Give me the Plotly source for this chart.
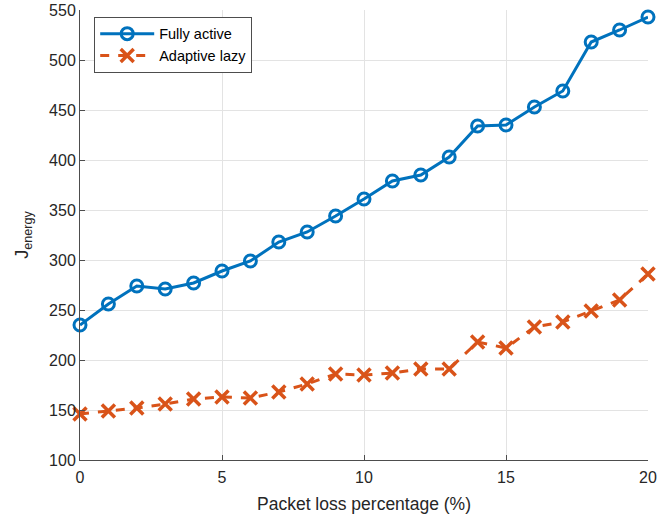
import plotly.graph_objects as go

packet_loss = list(range(0, 21))
fully_active = [235, 256, 274, 271, 277, 289, 299, 318, 328, 344, 361, 379, 385, 403, 434, 435, 453, 469, 518, 530, 543]
adaptive_lazy = [146, 149, 152, 156, 161, 163, 162, 168, 176, 186, 185, 187, 191, 191, 218, 212, 233, 238, 249, 260, 286]

blue = "#0072BD"
orange = "#D95319"

fig = go.Figure()
fig.add_trace(go.Scatter(
    x=packet_loss, y=fully_active, name="Fully active", mode="lines+markers",
    line=dict(color=blue, width=3),
    marker=dict(symbol="circle-open", size=12, color=blue, line=dict(width=3, color=blue)),
    cliponaxis=False,
))
fig.add_trace(go.Scatter(
    x=packet_loss, y=adaptive_lazy, name="Adaptive lazy", mode="lines+markers",
    line=dict(color=orange, width=3, dash="dash"),
    marker=dict(symbol="x-thin-open", size=13, color=orange, line=dict(width=3.5, color=orange)),
    cliponaxis=False,
))

FONT = "Liberation Sans, Arial, sans-serif"

axis_common = dict(
    showgrid=True, gridcolor="#e3e3e3", gridwidth=1,
    showline=True, linecolor="#4d4d4d", linewidth=1,
    ticks="inside", ticklen=5, tickcolor="#4d4d4d",
    tickfont=dict(family=FONT, size=16, color="#262626"),
    zeroline=False, mirror=False, automargin=False,
    ticklabeloverflow="allow",
)

fig.update_layout(
    width=657, height=519,
    margin=dict(l=80, r=9, t=10, b=59),
    paper_bgcolor="white", plot_bgcolor="white",
    font=dict(family=FONT, size=16, color="#262626"),
    xaxis=dict(range=[0, 20], tickvals=[0, 5, 10, 15, 20],
               ticklabelstandoff=3,
               title=dict(text="Packet loss percentage (%)", standoff=12,
                          font=dict(size=17.5, color="#262626")),
               **axis_common),
    yaxis=dict(range=[100, 550], tickvals=list(range(100, 551, 50)),
               title=dict(text="J<sub>energy</sub>", standoff=15,
                          font=dict(size=18, color="#262626")),
               **axis_common),
    legend=dict(x=0.025, y=0.985, xanchor="left", yanchor="top",
                bgcolor="white", bordercolor="#4d4d4d", borderwidth=1,
                font=dict(size=14.5, color="#000000"), tracegroupgap=0,
                itemwidth=54),
    showlegend=True,
)

fig.write_html("out.html", config={"displayModeBar": False},
               post_script="document.body.style.margin='0';")
